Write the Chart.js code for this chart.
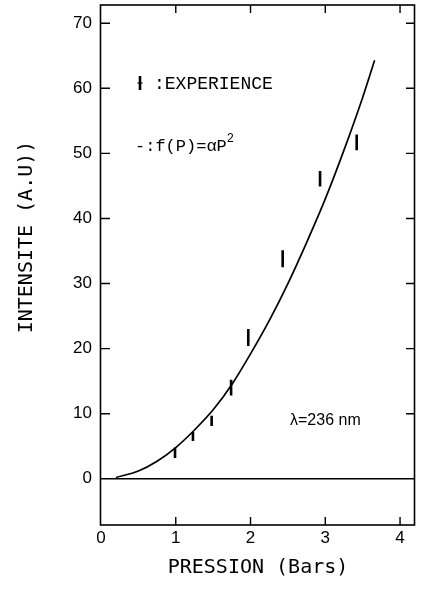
<!DOCTYPE html>
<html>
<head>
<meta charset="utf-8">
<script src="https://cdn.jsdelivr.net/npm/chart.js@4.4.0/dist/chart.umd.min.js"></script>
<style>
html,body{margin:0;padding:0;background:#fff;}
#wrap{width:423px;height:589px;position:relative;}
</style>
</head>
<body>
<div id="wrap"><canvas id="c" width="423" height="589"></canvas></div>
<script>
// ---- data ----
const pressureTicks = [0, 1, 2, 3, 4];
const intensityTicks = [0, 10, 20, 30, 40, 50, 60, 70];

// experimental points (Bars, A.U) with half error bars
const expP   = [0.99, 1.23, 1.48, 1.74, 1.97, 2.43, 2.93, 3.42];
const expI   = [4.0, 6.5, 8.9, 14.0, 21.7, 33.8, 46.1, 51.7];
const expErr = [0.8, 0.7, 0.8, 1.2, 1.3, 1.3, 1.2, 1.2];

// fitted curve f(P) = alpha P^2
const fitP = [0.2, 0.5, 0.75, 1.0, 1.25, 1.5, 1.75, 2.0, 2.25, 2.5, 2.75, 3.0, 3.25, 3.5, 3.66];
const fitI = [0.2, 1.2, 2.7, 4.8, 7.5, 10.6, 14.5, 19.2, 24.3, 30.0, 36.3, 43.0, 50.5, 58.6, 64.3];

const yTitle = 'INTENSITE (A.U))';
const xTitle = 'PRESSION (Bars)';
const legendExp = ':EXPERIENCE';
const legendFit = '-:f(P)=\u03b1P';
const legendFitSup = '2';
const lambdaText = '\u03bb=236 nm';

const tickFont = {family: '"Liberation Sans", sans-serif', size: 17};

const bgPlugin = {
  id: 'bg',
  beforeDraw(chart) {
    const ctx = chart.ctx;
    ctx.save();
    ctx.fillStyle = '#fff';
    ctx.fillRect(0, 0, chart.width, chart.height);
    ctx.restore();
  }
};

const framePlugin = {
  id: 'frame',
  beforeDatasetsDraw(chart) {
    const {ctx, chartArea: a, scales: {x, y}} = chart;
    ctx.save();
    ctx.strokeStyle = '#000';
    ctx.lineWidth = 1.6;
    ctx.strokeRect(a.left - 0.5, a.top, a.right - a.left, a.bottom - a.top);
    // inward ticks
    ctx.lineWidth = 1.4;
    ctx.beginPath();
    pressureTicks.forEach(v => {
      if (v === 0) return;
      const px = x.getPixelForValue(v);
      ctx.moveTo(px, a.bottom); ctx.lineTo(px, a.bottom - 8);
      ctx.moveTo(px, a.top); ctx.lineTo(px, a.top + 8);
    });
    intensityTicks.forEach(v => {
      if (v === 0) return;
      const py = y.getPixelForValue(v);
      ctx.moveTo(a.left, py); ctx.lineTo(a.left + 9, py);
      ctx.moveTo(a.right, py); ctx.lineTo(a.right - 9, py);
    });
    ctx.stroke();
    // zero line
    const y0 = y.getPixelForValue(0);
    ctx.lineWidth = 1.4;
    ctx.beginPath();
    ctx.moveTo(a.left, y0); ctx.lineTo(a.right, y0);
    ctx.stroke();
    ctx.restore();
  },
  afterDatasetsDraw(chart) {
    const {ctx, chartArea: a, scales: {x, y}} = chart;
    ctx.save();
    // error bars
    ctx.strokeStyle = '#000';
    ctx.lineWidth = 2.6;
    ctx.beginPath();
    expP.forEach((p, i) => {
      const px = x.getPixelForValue(p);
      ctx.moveTo(px, y.getPixelForValue(expI[i] - expErr[i]));
      ctx.lineTo(px, y.getPixelForValue(expI[i] + expErr[i]));
    });
    ctx.stroke();

    // y axis title
    ctx.fillStyle = '#000';
    ctx.font = '20px "DejaVu Sans Mono"';
    ctx.textAlign = 'center';
    ctx.textBaseline = 'middle';
    ctx.translate(27, 237);
    ctx.rotate(-Math.PI / 2);
    ctx.fillText(yTitle, 0, 0);
    ctx.setTransform(1, 0, 0, 1, 0, 0);

    // legend
    ctx.lineWidth = 2.6;
    ctx.beginPath();
    ctx.moveTo(140, 76); ctx.lineTo(140, 90);
    ctx.stroke();
    ctx.lineWidth = 1.2;
    ctx.beginPath();
    ctx.moveTo(137.5, 83); ctx.lineTo(142.5, 83);
    ctx.stroke();
    ctx.font = '18px "Liberation Mono"';
    ctx.textAlign = 'left';
    ctx.textBaseline = 'middle';
    ctx.fillText(legendExp, 154, 84);
    ctx.font = '17px "Liberation Mono"';
    ctx.fillText(legendFit, 135, 146);
    const w = ctx.measureText(legendFit).width;
    ctx.font = '12px "Liberation Mono"';
    ctx.fillText(legendFitSup, 135 + w, 139);

    ctx.font = '16px "Liberation Sans"';
    ctx.fillText(lambdaText, 290, 421);
    ctx.restore();
  }
};

new Chart(document.getElementById('c'), {
  type: 'scatter',
  data: {
    datasets: [
      {
        label: 'f(P)',
        data: fitP.map((p, i) => ({x: p, y: fitI[i]})),
        showLine: true,
        borderColor: '#000',
        borderWidth: 1.7,
        pointRadius: 0,
        cubicInterpolationMode: 'monotone',
        fill: false
      },
      {
        label: 'EXPERIENCE',
        data: expP.map((p, i) => ({x: p, y: expI[i]})),
        pointRadius: 0,
        showLine: false
      }
    ]
  },
  options: {
    responsive: false,
    animation: false,
    devicePixelRatio: 1,
    layout: {padding: {top: 5, right: 8, left: 0, bottom: 0}},
    plugins: {legend: {display: false}, tooltip: {enabled: false}},
    scales: {
      x: {
        type: 'linear',
        min: 0, max: 4.2,
        afterBuildTicks: s => { s.ticks = pressureTicks.map(v => ({value: v})); },
        afterFit: s => { s.height = 64; s.paddingLeft = 0; s.paddingRight = 0; },
        grid: {display: false, drawTicks: false},
        border: {display: false},
        ticks: {color: '#000', font: tickFont, padding: 3, maxRotation: 0},
        title: {display: true, text: xTitle, color: '#000', font: {family: 'DejaVu Sans Mono', size: 20}, padding: {top: 0, bottom: 9}}
      },
      y: {
        type: 'linear',
        min: -7.1, max: 72.8,
        afterBuildTicks: s => { s.ticks = intensityTicks.map(v => ({value: v})); },
        afterFit: s => { s.width = 101; s.paddingTop = 0; s.paddingBottom = 0; },
        grid: {display: false, drawTicks: false},
        border: {display: false},
        ticks: {color: '#000', font: tickFont, padding: 9}
      }
    }
  },
  plugins: [bgPlugin, framePlugin]
});
</script>
</body>
</html>
